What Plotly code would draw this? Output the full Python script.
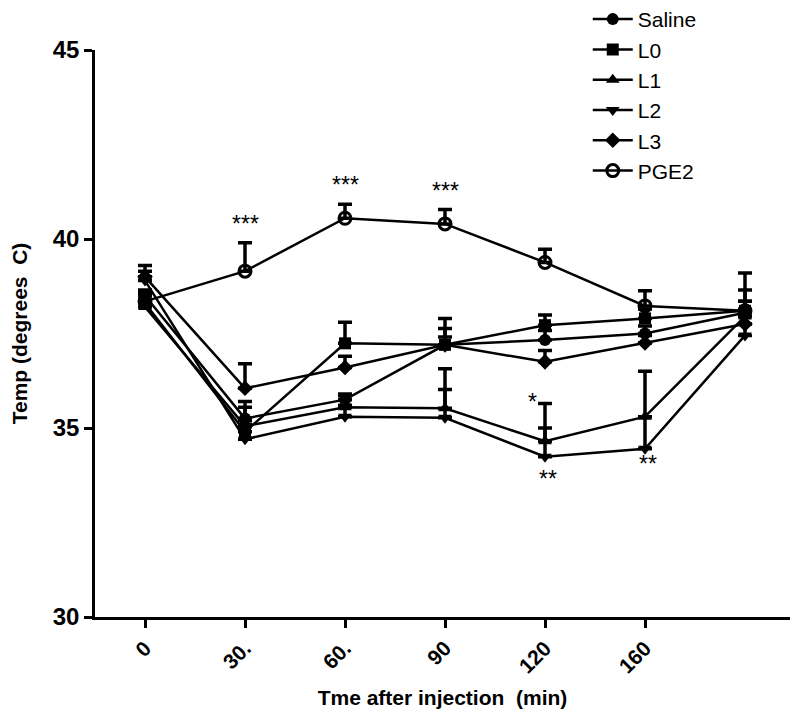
import plotly.graph_objects as go

# ---- data ----
x_idx = [0, 1, 2, 3, 4, 5, 6]
tick_pos = [0, 1, 2, 3, 4, 5]
tick_labels = ["0", "30.", "60.", "90", "120", "160"]

saline = [38.5, 35.25, 35.75, 37.2, 37.33, 37.5, 38.05]
saline_err = [0.15, 0.45, 0.15, 0.43, 0.25, 0.2, 0.3]
l0 = [38.3, 34.9, 37.24, 37.2, 37.72, 37.9, 38.1]
l0_err = [0.3, 0.3, 0.56, 0.7, 0.27, 0.25, 0.55]
l1 = [38.2, 35.05, 35.55, 35.52, 34.65, 35.3, 37.95]
l1_err = [0.2, 0.5, 0.3, 1.05, 1.0, 1.2, 0.4]
l2 = [38.9, 34.7, 35.3, 35.27, 34.24, 34.45, 37.45]
l2_err = [0.25, 0.4, 0.3, 0.75, 0.76, 0.85, 0.3]
l3 = [39.0, 36.05, 36.6, 37.2, 36.75, 37.25, 37.75]
l3_err = [0.3, 0.65, 0.3, 0.21, 0.3, 0.2, 0.2]
pge2 = [38.35, 39.15, 40.55, 40.4, 39.38, 38.23, 38.1]
pge2_err = [0.2, 0.75, 0.37, 0.38, 0.35, 0.4, 1.0]

series = [
    ("Saline", saline, saline_err, "circle"),
    ("L0", l0, l0_err, "square"),
    ("L1", l1, l1_err, "triangle-up"),
    ("L2", l2, l2_err, "triangle-down"),
    ("L3", l3, l3_err, "diamond"),
    ("PGE2", pge2, pge2_err, "circle-open"),
]

FONT = "Arial, Liberation Sans, sans-serif"

fig = go.Figure()
for name, vals, errs, sym in series:
    open_sym = sym.endswith("open")
    fig.add_trace(go.Scatter(
        x=x_idx, y=vals, name=name, mode="lines+markers",
        line=dict(color="black", width=2.5),
        marker=dict(symbol=sym, size=12, color="black",
                    line=dict(color="black", width=3 if open_sym else 0)),
        error_y=dict(type="data", array=errs, arrayminus=[0] * len(errs),
                     symmetric=False, color="black", thickness=3.5, width=7),
    ))

# significance marks
ann = []
for i in [1, 2, 3]:
    ann.append(dict(x=x_idx[i], y=pge2[i] + pge2_err[i] + 0.5, text="***"))
ann.append(dict(x=x_idx[4] - 0.13, y=l1[4] + l1_err[4] + 0.05, text="*"))
ann.append(dict(x=x_idx[4] + 0.03, y=l2[4] - 0.6, text="**"))
ann.append(dict(x=x_idx[5] + 0.03, y=l2[5] - 0.4, text="**"))
for a in ann:
    fig.add_annotation(x=a["x"], y=a["y"], text=a["text"], showarrow=False,
                       font=dict(family=FONT, size=23, color="black"),
                       xanchor="center", yanchor="middle")

fig.update_layout(
    width=800, height=725,
    margin=dict(l=87, r=18, t=42, b=116, autoexpand=False),
    paper_bgcolor="white", plot_bgcolor="white",
    font=dict(family=FONT, color="black"),
    showlegend=True,
    legend=dict(x=0.709, y=1.09, xanchor="left", yanchor="top",
                font=dict(family=FONT, size=21, color="black"),
                bgcolor="rgba(0,0,0,0)", itemwidth=40),
    xaxis=dict(range=[-0.5, 6.45], tickmode="array", tickvals=tick_pos,
               ticktext=tick_labels, tickangle=-45,
               showline=True, linecolor="black", linewidth=2.5,
               ticks="outside", ticklen=8, tickwidth=2.5, tickcolor="black",
               showgrid=False, zeroline=False,
               tickfont=dict(family=FONT, size=21, color="black", weight="bold"),
               title=dict(text="Tme after injection  (min)", standoff=14,
                          font=dict(family=FONT, size=21, color="black", weight="bold"))),
    yaxis=dict(range=[30, 45], tickvals=[30, 35, 40, 45],
               showline=True, linecolor="black", linewidth=2.5,
               ticks="outside", ticklen=8, tickwidth=2.5, tickcolor="black",
               showgrid=False, zeroline=False,
               tickfont=dict(family=FONT, size=24, color="black", weight="bold"),
               title=dict(text="Temp (degrees  C)", standoff=20,
                          font=dict(family=FONT, size=21, color="black", weight="bold"))),
)

fig.write_html("out.html")
